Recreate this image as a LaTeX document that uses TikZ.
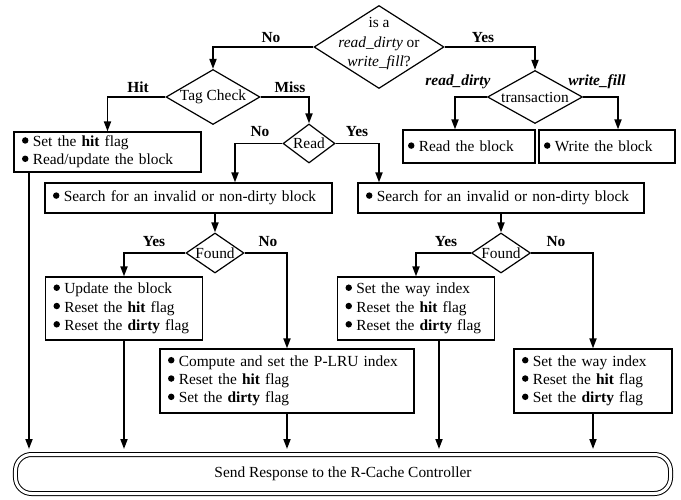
\documentclass[tikz,border=0pt]{standalone}
\usepackage{fontspec}
\setmainfont{Liberation Serif}
\usetikzlibrary{shapes.geometric,arrows.meta}
\newcommand\mybul{\tikz[baseline=0pt]\fill (0.21em,0.40em) circle[radius=0.21em];}
\newcommand\myitem[1]{\mbox{\mybul\hspace{0.28em}#1}}
\begin{document}
\begin{tikzpicture}[x=1bp,y=-1bp,
  every node/.style={font=\fontsize{15.4bp}{18.3bp}\selectfont},
  box/.style={draw,line width=1.2bp,inner xsep=8bp,inner ysep=0pt,align=left},
  dia/.style={diamond,draw,line width=1.2bp,inner sep=0pt},
  arr/.style={line width=1.8bp,-{Triangle[length=10bp,width=7bp]}},
  lab/.style={font=\fontsize{15.4bp}{18.3bp}\selectfont\bfseries,anchor=base,inner sep=0pt},
  dtext/.style={inner sep=0pt,align=center}]
\path[use as bounding box,fill=white] (0,0) rectangle (681,500);
% diamonds
\node[dia,minimum width=130bp,minimum height=83bp] (d1) at (379,47) {};
\node[dtext,font=\fontsize{15.4bp}{19.5bp}\selectfont] (t1) at (379,44) {is a\\\textit{read\_dirty} or\\\textit{write\_fill}?};
\node[dia,minimum width=94bp,minimum height=55bp] (d2) at (213,97) {};
\node[dtext] (t2) at (d2) {Tag Check};
\node[dia,minimum width=95bp,minimum height=53bp] (d3) at (535,97) {};
\node[dtext] (t3) at (d3) {transaction};
\node[dia,minimum width=52bp,minimum height=39bp] (d4) at (309,143.5) {};
\node[dtext] (t4) at (d4) {Read};
\node[dia,minimum width=58bp,minimum height=40bp] (d5) at (215,253) {};
\node[dtext] (t5) at (d5) {Found};
\node[dia,minimum width=59bp,minimum height=40bp] (d6) at (501,253) {};
\node[dtext] (t6) at (d6) {Found};
% boxes
\node[box,minimum width=187bp,minimum height=40bp,text width=171bp] (hit) at (107.5,152)
  {\myitem{Set the \textbf{hit} flag}\\\myitem{Read/update the block}};
\node[box,inner xsep=5bp,minimum width=132bp,minimum height=33bp,text width=122bp] (rblk) at (469,146.5)
  {\myitem{Read the block}};
\node[box,inner xsep=5bp,minimum width=136bp,minimum height=33bp,text width=126bp] (wblk) at (607,146.5)
  {\myitem{Write the block}};
\node[box,minimum width=287bp,minimum height=30bp,text width=271bp] (s1) at (188.5,198)
  {\myitem{Search for an invalid or non-dirty block}};
\node[box,minimum width=286bp,minimum height=30bp,text width=270bp] (s2) at (501,198)
  {\myitem{Search for an invalid or non-dirty block}};
\node[box,minimum width=157bp,minimum height=63bp,text width=141bp] (u1) at (124,308.5)
  {\myitem{Update the block}\\\myitem{Reset the \textbf{hit} flag}\\\myitem{Reset the \textbf{dirty} flag}};
\node[box,minimum width=157bp,minimum height=63bp,text width=141bp] (u2) at (416,308.5)
  {\myitem{Set the way index}\\\myitem{Reset the \textbf{hit} flag}\\\myitem{Reset the \textbf{dirty} flag}};
\node[box,minimum width=254bp,minimum height=64bp,text width=238bp] (plru) at (287,381)
  {\myitem{Compute and set the P-LRU index}\\\myitem{Reset the \textbf{hit} flag}\\\myitem{Set the \textbf{dirty} flag}};
\node[box,minimum width=158bp,minimum height=64bp,text width=142bp] (way) at (593,381)
  {\myitem{Set the way index}\\\myitem{Reset the \textbf{hit} flag}\\\myitem{Set the \textbf{dirty} flag}};
\node[draw,line width=1bp,double,double distance=3bp,rounded corners=16bp,
  minimum width=655bp,minimum height=39bp] (send) at (343,474)
  {Send Response to the R-Cache Controller};
% connectors
\draw[arr] (d1.west) -| (d2.north);
\draw[arr] (d1.east) -| (d3.north);
\draw[arr] (d2.west) -| (hit.north);
\draw[arr] (d2.east) -| (d4.north);
\draw[arr] (d3.west) -| ([xshift=-14bp]rblk.north);
\draw[arr] (d3.east) -| ([xshift=11bp]wblk.north);
\draw[arr] (d4.west) -| ([xshift=46.5bp]s1.north);
\draw[arr] (d4.east) -| ([xshift=-122bp]s2.north);
\draw[arr] (s1.south -| d5.north) -- (d5.north);
\draw[arr] (s2.south) -- (d6.north);
\draw[arr] (d5.west) -| (u1.north);
\draw[arr] (d5.east) -| (plru.north);
\draw[arr] (d6.west) -| (u2.north);
\draw[arr] (d6.east) -| (way.north);
\draw[arr,shorten >=5bp] ([xshift=-78.5bp]hit.south) -- ([xshift=-78.5bp]hit.south |- send.north);
\draw[arr,shorten >=5bp] (u1.south) -- (u1.south |- send.north);
\draw[arr,shorten >=5bp] (plru.south) -- (plru.south |- send.north);
\draw[arr,shorten >=5bp] ([xshift=23bp]u2.south) -- ([xshift=23bp]u2.south |- send.north);
\draw[arr,shorten >=5bp] (way.south) -- (way.south |- send.north);
% labels
\node[lab] (l1) at (271,43) {No};
\node[lab] (l2) at (483,43) {Yes};
\node[lab] (l3) at (138,93) {Hit};
\node[lab] (l4) at (290,93) {Miss};
\node[lab] (l5) at (458,86) {\itshape read\_dirty};
\node[lab] (l6) at (597,86) {\itshape write\_fill};
\node[lab] (l7) at (260,137) {No};
\node[lab] (l8) at (357,137) {Yes};
\node[lab] (l9) at (154,247) {Yes};
\node[lab] (l10) at (268,247) {No};
\node[lab] (l11) at (446,247) {Yes};
\node[lab] (l12) at (556,247) {No};
\end{tikzpicture}
\end{document}
